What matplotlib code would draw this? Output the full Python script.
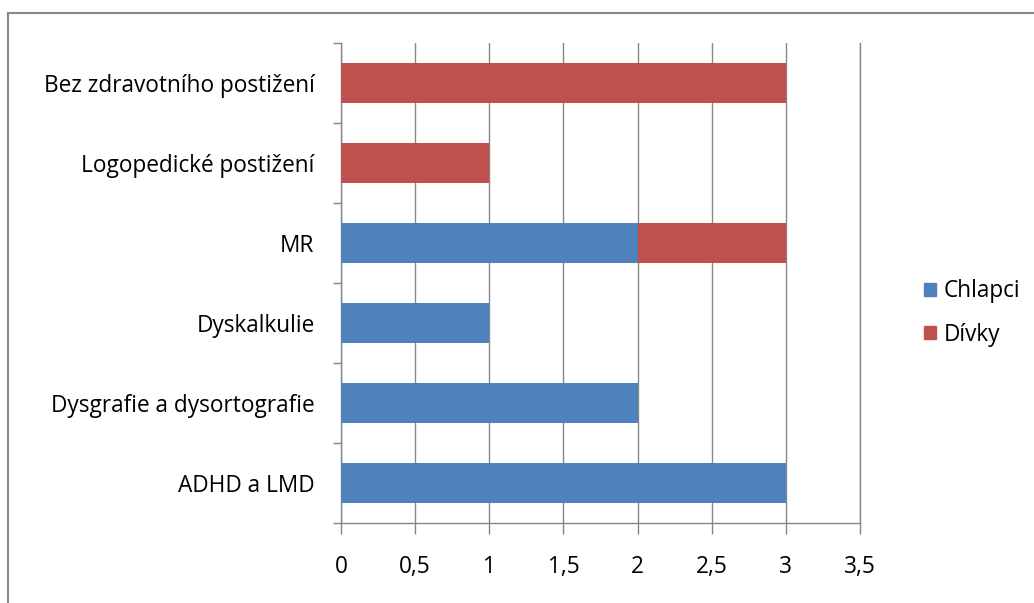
import matplotlib.pyplot as plt
from matplotlib.patches import Rectangle, Patch

categories = [
    "ADHD a LMD",
    "Dysgrafie a dysortografie",
    "Dyskalkulie",
    "MR",
    "Logopedické postižení",
    "Bez zdravotního postižení",
]
chlapci = [3, 2, 1, 2, 0, 0]
divky = [0, 0, 0, 1, 1, 3]
x_ticks = [0, 0.5, 1, 1.5, 2, 2.5, 3, 3.5]
x_tick_labels = ["0", "0,5", "1", "1,5", "2", "2,5", "3", "3,5"]

plt.rcParams["font.family"] = ["Open Sans", "DejaVu Sans"]
grey = "#868686"
fs = 16.3

fig = plt.figure(figsize=(10.34, 6.03), dpi=100)
ax = fig.add_axes([341 / 1034, 1 - 523 / 603, 519 / 1034, 480 / 603])

pos = list(range(len(categories)))
ax.barh(pos, chlapci, height=0.5, color="#4F81BD", label="Chlapci", zorder=3)
ax.barh(pos, divky, height=0.5, left=chlapci, color="#C0504D", label="Dívky", zorder=3)

ax.set_xlim(0, 3.5)
ax.set_ylim(-0.5, len(categories) - 0.5)
ax.set_xticks(x_ticks)
ax.set_xticklabels(x_tick_labels, fontsize=fs)
ax.xaxis.grid(True, color=grey, linewidth=1, zorder=0)

# category labels sit between the boundary tick marks
ax.set_yticks([p - 0.5 for p in pos] + [len(categories) - 0.5])
ax.set_yticklabels([])
ax.set_yticks(pos, minor=True)
ax.set_yticklabels(categories, minor=True, fontsize=fs)
ax.tick_params(axis="y", which="minor", length=0, pad=19)
ax.tick_params(axis="y", which="major", length=6, color=grey, width=1)
ax.tick_params(axis="x", length=8, color=grey, width=1, pad=15)

ax.spines["top"].set_visible(False)
for s in ["left", "bottom", "right"]:
    ax.spines[s].set_color(grey)
    ax.spines[s].set_linewidth(1)

handles = [Patch(color="#4F81BD"), Patch(color="#C0504D")]
fig.legend(handles, ["Chlapci", "Dívky"], loc="center left",
           bbox_to_anchor=(913 / 1034, 1 - 313 / 603), frameon=False,
           fontsize=fs, handlelength=0.52, handleheight=0.52,
           handletextpad=0.33, labelspacing=0.85, borderpad=0)

# chart frame: only top and left edges fall inside the image
fig.patches.append(Rectangle((8 / 1034, -0.05), 1.1, 1 - 13 / 603 + 0.05,
                             transform=fig.transFigure, fill=False,
                             edgecolor=grey, linewidth=1.5))

fig.savefig("out.png", dpi=100)
